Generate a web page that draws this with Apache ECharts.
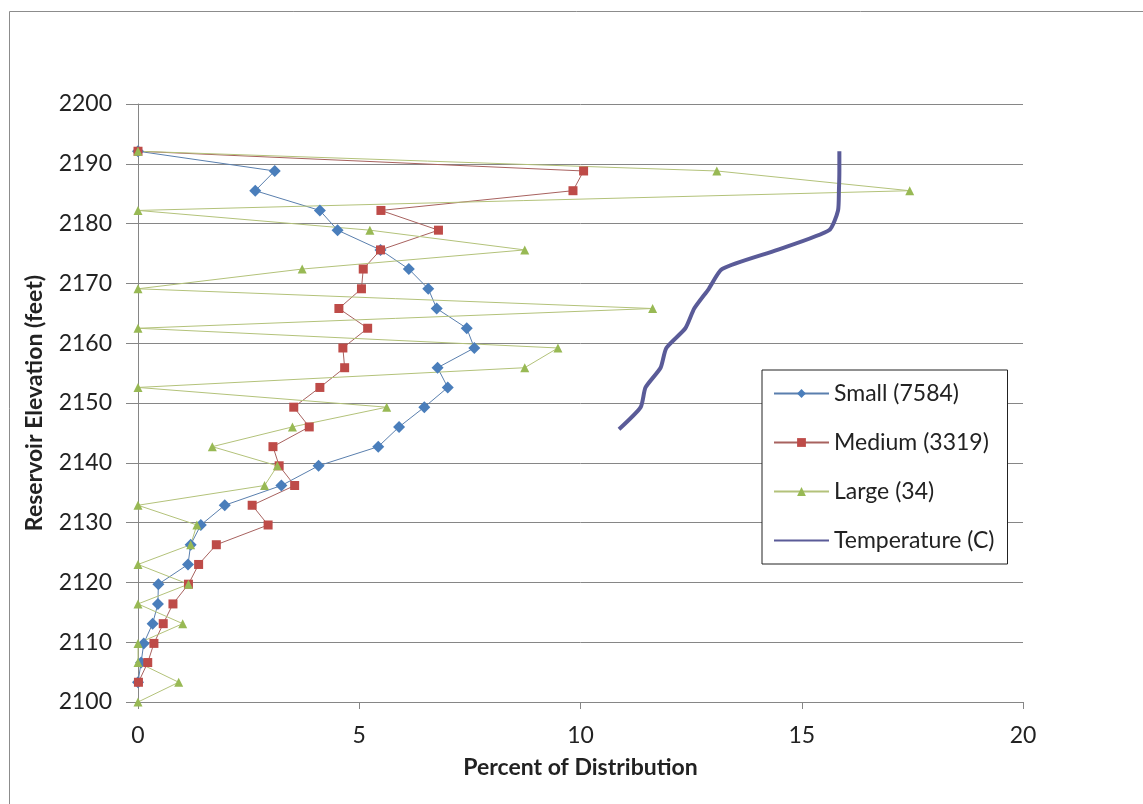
<!DOCTYPE html>
<html>
<head>
<meta charset="utf-8">
<script src="https://cdn.jsdelivr.net/npm/echarts@6/dist/echarts.min.js"></script>
<style>
  html, body { margin: 0; padding: 0; background: #fff; }
  #chart { width: 1143px; height: 804px; }
</style>
</head>
<body>
<div id="chart"></div>
<script>
// Sampling elevations (feet), top of reservoir to bottom
const elevations = [2192.1, 2188.8, 2185.5, 2182.2, 2178.9, 2175.6, 2172.4, 2169.1, 2165.8, 2162.5,
                    2159.2, 2155.9, 2152.6, 2149.3, 2146.0, 2142.7, 2139.5, 2136.2, 2132.9, 2129.6,
                    2126.3, 2123.0, 2119.7, 2116.4, 2113.1, 2109.8, 2106.6, 2103.3, 2100.0];

// Percent of distribution per size class at each elevation
const small  = [0, 3.09, 2.65, 4.11, 4.51, 5.48, 6.12, 6.56, 6.75, 7.43,
                7.60, 6.77, 7.00, 6.47, 5.90, 5.43, 4.08, 3.24, 1.96, 1.42,
                1.19, 1.13, 0.46, 0.45, 0.33, 0.13, 0.07, 0, null];
const medium = [0, 10.07, 9.83, 5.49, 6.79, 5.48, 5.09, 5.05, 4.54, 5.19,
                4.63, 4.67, 4.11, 3.52, 3.87, 3.05, 3.19, 3.54, 2.58, 2.94,
                1.77, 1.37, 1.14, 0.79, 0.57, 0.36, 0.22, 0.01, null];
const large  = [0, 13.08, 17.44, 0, 5.24, 8.74, 3.71, 0, 11.63, 0,
                9.49, 8.74, 0, 5.62, 3.49, 1.68, 3.15, 2.86, 0, 1.33,
                1.19, 0, 1.14, 0, 1.01, 0, 0, 0.92, 0];

// Water temperature profile (degrees C)
const tempElevations = [2192.1, 2188.8, 2185.5, 2182.2, 2178.9, 2175.6, 2172.4, 2169.1,
                        2165.8, 2162.5, 2159.2, 2155.9, 2152.6, 2149.3, 2145.6];
const temperature    = [15.85, 15.85, 15.84, 15.82, 15.62, 14.45, 13.2, 12.9,
                        12.57, 12.37, 11.94, 11.81, 11.47, 11.36, 10.87];

const seriesNames = ['Small (7584)', 'Medium (3319)', 'Large (34)', 'Temperature (C)'];
const xTicks = { min: 0, max: 20, step: 5 };
const yTicks = { min: 2100, max: 2200, step: 10 };

function pairs(values, elev) {
  const out = [];
  values.forEach((v, i) => { if (v !== null) out.push([v, elev[i]]); });
  return out;
}

const FONT = 'Lato';
const TEXT = '#222';
const GRID = '#868686';

const chart = echarts.init(document.getElementById('chart'), null, { renderer: 'canvas' });

chart.setOption({
  animation: false,
  backgroundColor: '#fff',
  grid: { left: 138, right: 120, top: 104, bottom: 102, containLabel: false },
  graphic: [{
    type: 'rect', silent: true, z: -10,
    shape: { x: 9.5, y: 11.5, width: 1200, height: 900 },
    style: { fill: 'none', stroke: '#8c8c8c', lineWidth: 1 }
  }],
  legend: {
    orient: 'vertical', left: 762, top: 370,
    padding: [12, 13, 12, 11], itemGap: 26, itemWidth: 55, itemHeight: 11,
    borderColor: '#222', borderWidth: 1, backgroundColor: '#fff',
    textStyle: { fontFamily: FONT, fontSize: 23, color: TEXT, lineHeight: 22 },
    data: [
      { name: seriesNames[0] },
      { name: seriesNames[1] },
      { name: seriesNames[2] },
      { name: seriesNames[3], itemStyle: { opacity: 0 } }
    ]
  },
  xAxis: {
    type: 'value', min: xTicks.min, max: xTicks.max, interval: xTicks.step,
    name: 'Percent of Distribution', nameLocation: 'middle', nameGap: 54,
    nameTextStyle: { fontFamily: FONT, fontWeight: 'bold', fontSize: 23, color: TEXT },
    axisLine: { show: true, onZero: false, lineStyle: { color: GRID, width: 1 } },
    axisTick: { show: true, length: 7, lineStyle: { color: GRID } },
    axisLabel: { margin: 22, fontFamily: FONT, fontSize: 23, color: TEXT },
    splitLine: { show: false }
  },
  yAxis: {
    type: 'value', min: yTicks.min, max: yTicks.max, interval: yTicks.step,
    name: 'Reservoir Elevation (feet)', nameLocation: 'middle', nameGap: 92, nameRotate: 90,
    nameTextStyle: { fontFamily: FONT, fontWeight: 'bold', fontSize: 23, color: TEXT },
    axisLine: { show: true, onZero: false, lineStyle: { color: GRID, width: 1 } },
    axisTick: { show: true, length: 12, lineStyle: { color: GRID } },
    axisLabel: { margin: 26, fontFamily: FONT, fontSize: 23, color: TEXT,
                 formatter: v => String(v) },
    splitLine: { show: true, lineStyle: { color: GRID, width: 1 } }
  },
  series: [
    {
      name: seriesNames[0], type: 'line', data: pairs(small, elevations),
      symbol: 'diamond', symbolSize: 12,
      itemStyle: { color: '#4a7ebb' },
      lineStyle: { color: '#5a7fae', width: 1 }
    },
    {
      name: seriesNames[1], type: 'line', data: pairs(medium, elevations),
      symbol: 'rect', symbolSize: 9,
      itemStyle: { color: '#be4b48' },
      lineStyle: { color: '#a8625f', width: 1 }
    },
    {
      name: seriesNames[2], type: 'line', data: pairs(large, elevations),
      symbol: 'triangle', symbolSize: 9,
      itemStyle: { color: '#98b954' },
      lineStyle: { color: '#b3c27a', width: 1 }
    },
    {
      name: seriesNames[3], type: 'line', data: pairs(temperature, tempElevations),
      symbol: 'none', smooth: 0.2,
      itemStyle: { color: '#5a5b98' },
      lineStyle: { color: '#5a5b98', width: 4 }
    }
  ]
});
</script>
</body>
</html>
